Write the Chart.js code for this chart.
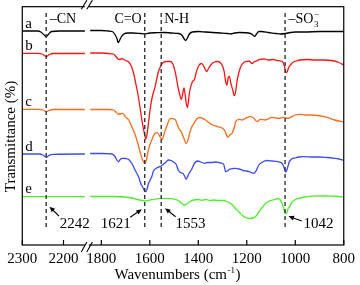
<!DOCTYPE html>
<html><head><meta charset="utf-8">
<script src="https://cdn.jsdelivr.net/npm/chart.js@4.4.1/dist/chart.umd.min.js"></script>
<style>html,body{margin:0;padding:0;background:#fff}</style>
</head><body>
<canvas id="c" width="360" height="285"></canvas>
<script>
// ---- tick labels & markers ----
const tickWavenumbers = [2300, 2200, 1800, 1600, 1400, 1200, 1000, 800];
const markerWavenumbers = [2242, 1621, 1553, 1042];
const traceLabels = ['a', 'b', 'c', 'd', 'e'];

// ---- spectra (wavenumber, relative transmittance; null = axis break) ----
const wnA = [2300,2282,2262,2255,2248,2242,2236,2229,2210,2186,2162,2148,2000,
  1846,1800,1770,1755,1745,1735,1731,1726,1718,1707,1690,1670,1640,1621,1600,1570,1540,1510,1480,1468,1458,1452,1445,1437,1425,1400,1370,1340,1310,1280,1265,1250,1230,1185,1175,1168,1160,1150,1140,1110,1080,1060,1040,1020,1000,960,900,850,800];
const tA = [214,214,214,213,210.5,208.3,211,213.5,214,214,214,214,null,
  214.5,214.5,214,213.5,211,206,202.3,204,208,211,212,212,211.5,211,212,212.3,212.5,212,211.5,210,206,204.5,207,211,213,213.5,213,212.5,212,211.5,211,212,212.5,211.5,210,208.5,211,213.5,213.5,212.5,211.5,211,211.5,212.5,213,213,213.5,213.5,213.5];

const wnB = [2300,2262,2252,2242,2234,2225,2148,2000,
  1846,1800,1770,1750,1740,1731,1722,1716,1708,1695,1687,1675,1665,1660,1650,1640,1630,1621,1617,1612,1605,1599,1590,1578,1565,1555,1545,1530,1515,1505,1494,1483,1476,1470,1463,1459,1455,1450,1445,1440,1436,1425,1415,1408,1400,1388,1380,1370,1365,1357,1345,1334,1320,1310,1300,1293,1287,1282,1277,1272,1265,1258,1252,1247,1240,1232,1225,1210,1200,1190,1178,1170,1160,1145,1130,1110,1090,1075,1060,1050,1045,1040,1035,1028,1020,1008,995,980,950,920,880,850,820,800];
const tB = [191.7,191.7,191,188.5,190.5,191.5,191.5,null,
  192,192,191.5,191,188.5,186,185.5,186.5,185.5,184,183,178,170,164,152,137,121,110,106,110,123,135,148,158.3,173,179,182.5,183.5,183.5,181,171.7,157,150,145.5,153,157,152,142,137.5,145,153,163,166,173,178.5,181.5,180,175,173.3,177,181,183,183.5,182.5,179,173,163,160,167,168.5,161,155,149.5,152,164,173,178.3,183,183.5,184,181.5,183,184,185.7,186,185,185.5,184.5,184,182.5,179,173.5,172.5,177,180,183,184,185,185.5,185,185,184.5,182.5,180];

const wnC = [2300,2258,2250,2242,2235,2225,2148,2000,
  1846,1800,1770,1750,1740,1731,1722,1714,1705,1701,1687,1674,1660,1650,1640,1630,1620,1612,1606,1592,1578,1569,1558,1549,1540,1531,1520,1511,1500,1494,1481,1470,1460,1450,1440,1436,1425,1415,1402,1392,1382,1370,1361,1341,1320,1300,1290,1282,1278,1270,1260,1250,1246,1232,1218,1205,1185,1171,1157,1144,1124,1096,1069,1049,1042,1028,1015,1001,981,961,933,879,838,800];
const tC = [135.7,135.7,135,133.3,134.7,135.5,135.5,null,
  135.5,135.5,135.5,135,133,131,131,131.7,130,128.3,125,118.3,110,102,93,85,81.7,87,95,105,111.7,112.3,108.3,105.7,112,118.3,125,126.7,126,125,117,113,107,101.7,107,111.7,119,123,127,127.5,126.7,125,123.3,120,118.3,116.7,114,109,107.7,110,112,119,123.3,125.7,125,126.7,128.3,126.7,123.3,125.7,125,127.7,126.7,127.7,127.2,126.7,128.3,130,130.7,130,130,128.3,125,123];

const wnD = [2300,2258,2250,2242,2235,2225,2148,2000,
  1846,1800,1756,1745,1736,1729,1722,1714,1700,1687,1673,1660,1646,1639,1630,1621,1617,1610,1606,1592,1585,1572,1560,1553,1545,1535,1524,1512,1504,1490,1483,1470,1463,1455,1450,1445,1438,1429,1415,1402,1390,1375,1360,1345,1330,1307,1295,1287,1280,1270,1255,1246,1232,1215,1200,1185,1171,1162,1150,1135,1117,1096,1072,1055,1047,1042,1038,1032,1025,1015,1000,987,967,930,906,870,838,820,800];
const tD = [91,91,90,87.7,89.7,90.7,91,null,
  91.5,91.5,91,89,85,83.3,85.5,86.7,86.5,85.5,81,74.5,68,62.5,58,54,53.3,57,61,68.3,74,77,78.3,79,80.5,82.5,85,84.5,83.3,80,75,72,71.5,68,65.7,68,71.7,75,82,84,83,81.7,82.5,82.5,83,82,80.5,73.3,74,76,76.5,76.7,76,74.5,74,73,71.7,74,80,83,84.5,84,83.3,81.7,78,74,73,77,83,86,87,88,88.3,88,88,87.5,86.7,86,84.5];

const wnE = [2300,2242,2148,2000,
  1846,1800,1750,1700,1674,1650,1630,1619,1606,1585,1565,1551,1530,1510,1497,1483,1476,1465,1456,1448,1436,1420,1400,1385,1370,1350,1335,1320,1300,1282,1268,1255,1245,1232,1218,1205,1190,1175,1166,1155,1145,1135,1120,1103,1085,1072,1062,1055,1048,1042,1037,1030,1022,1015,1000,980,960,933,880,850,820,800];
const tE = [48.3,48.3,48.3,null,
  48.5,48.5,48.5,48,47,45.5,44.5,44,44.5,45.7,46.3,46.7,46.5,46.3,45.7,44.5,43.3,41,40,41,43.3,45,45.5,44.7,45.5,44.5,45,44.5,44.5,43.5,41.7,39,36,33,29.5,27.5,26.7,27,28,31,35,38,42,44.3,45.5,46.5,45,42,37,31.5,31.5,36,39,42.3,45.5,47,48,48.8,49,48.8,48.5,48];

// ---- broken-axis mapping (2300–2140 | 1850–800) ----
const LEFT_K = 0.417, RIGHT_K = 0.2454, RIGHT_OFF = 80;
function toAxis(w) { return w > 2000 ? (2300 - w) * LEFT_K : RIGHT_OFF + (1800 - w) * RIGHT_K; }
const AXIS_MAX = toAxis(800);

const SERIF = '"Liberation Serif", "Times New Roman", serif';
const colors = ['#000000', '#ff1414', '#ff6a1a', '#3a4bf5', '#4cee2a'];
const wns = [wnA, wnB, wnC, wnD, wnE];
const ts = [tA, tB, tC, tD, tE];

const datasets = ts.map((t, k) => ({
  label: traceLabels[k],
  data: wns[k].map((w, i) => ({ x: toAxis(w), y: t[i] })),
  borderColor: colors[k],
  borderWidth: 1.3,
  pointRadius: 0,
  fill: false,
  spanGaps: false,
  cubicInterpolationMode: 'monotone'
}));

function arrow(ctx, x1, y1, x2, y2) {
  const a = Math.atan2(y2 - y1, x2 - x1), h = 5.5, wdt = 2.4;
  ctx.beginPath(); ctx.moveTo(x1, y1);
  ctx.lineTo(x2 - Math.cos(a) * h * 0.8, y2 - Math.sin(a) * h * 0.8); ctx.stroke();
  ctx.beginPath();
  ctx.moveTo(x2, y2);
  ctx.lineTo(x2 - h * Math.cos(a) + wdt * Math.sin(a), y2 - h * Math.sin(a) - wdt * Math.cos(a));
  ctx.lineTo(x2 - h * Math.cos(a) - wdt * Math.sin(a), y2 - h * Math.sin(a) + wdt * Math.cos(a));
  ctx.closePath(); ctx.fill();
}

const overlay = {
  id: 'overlay',
  afterDatasetsDraw(chart) {
    const { ctx, chartArea: ca, scales: { x, y } } = chart;
    const px = w => x.getPixelForValue(toAxis(w));
    ctx.save();
    ctx.strokeStyle = '#000'; ctx.lineWidth = 1.2;
    ctx.strokeRect(ca.left, ca.top, ca.right - ca.left, ca.bottom - ca.top);
    tickWavenumbers.forEach(w => {
      const p = px(w);
      ctx.beginPath(); ctx.moveTo(p, ca.bottom); ctx.lineTo(p, ca.bottom - 5); ctx.stroke();
    });
    const b1 = px(2150), b2 = b1 + 5.5;
    ctx.fillStyle = '#fff';
    ctx.fillRect(b1 + 0.8, ca.top - 2, b2 - b1 - 1.6, 4);
    ctx.fillRect(b1 + 0.8, ca.bottom - 2, b2 - b1 - 1.6, 4);
    ctx.lineWidth = 1.1;
    [[ca.top - 2, 4.5], [ca.bottom + 2, 5]].forEach(([yc, hh]) => {
      [b1, b2].forEach(cx => {
        ctx.beginPath(); ctx.moveTo(cx - 2.8, yc + hh); ctx.lineTo(cx + 2.8, yc - hh); ctx.stroke();
      });
    });
    ctx.strokeStyle = '#333'; ctx.lineWidth = 1.4; ctx.setLineDash([4, 3]);
    const yTop = y.getPixelForValue(232), yBot = y.getPixelForValue(16);
    markerWavenumbers.forEach(w => {
      const p = px(w);
      ctx.beginPath(); ctx.moveTo(p, yTop); ctx.lineTo(p, yBot); ctx.stroke();
    });
    ctx.setLineDash([]);
    ctx.fillStyle = '#000'; ctx.strokeStyle = '#000';
    ctx.font = '15px ' + SERIF; ctx.textBaseline = 'alphabetic';
    ctx.textAlign = 'left';
    ts.forEach((t, k) => ctx.fillText(traceLabels[k], ca.left + 3, y.getPixelForValue(t[0]) - 3.5));
    const yl = ca.top + 16;
    ctx.font = '14px ' + SERIF;
    ctx.textAlign = 'left'; ctx.fillText('\u2013CN', px(2242) + 3.5, yl);
    ctx.textAlign = 'right'; ctx.fillText('C=O', px(1621) - 3, yl);
    ctx.textAlign = 'left'; ctx.fillText('N-H', px(1553) + 3, yl);
    const sx = px(1042) + 3.4;
    ctx.fillText('\u2013SO', sx, yl);
    const sw = ctx.measureText('\u2013SO').width;
    ctx.font = '9px ' + SERIF;
    ctx.fillText('3', sx + sw + 0.5, yl + 4);
    ctx.fillText('\u2212', sx + sw + 0.5, yl - 6);
    ctx.font = '15px ' + SERIF;
    const yb = 228.3;
    ctx.lineWidth = 1.1;
    ctx.textAlign = 'left'; ctx.fillText('2242', px(2242) + 13.5, yb);
    arrow(ctx, px(2242) + 12.8, 216, px(2242) + 3.3, 206.7);
    ctx.textAlign = 'right'; ctx.fillText('1621', px(1621) - 14, yb);
    arrow(ctx, px(1621) - 14.5, 217.3, px(1621) - 2.9, 209.3);
    ctx.textAlign = 'left'; ctx.fillText('1553', px(1553) + 14.4, yb);
    arrow(ctx, px(1553) + 14.4, 216.7, px(1553) + 3.8, 208.3);
    ctx.fillText('1042', px(1042) + 18.4, yb);
    arrow(ctx, px(1042) + 16.7, 221, px(1042) + 3.4, 216.3);
    ctx.save();
    ctx.translate(15, 136.5); ctx.rotate(-Math.PI / 2);
    ctx.textAlign = 'center'; ctx.font = '15px ' + SERIF;
    ctx.fillText('Transmittance (%)', 0, 0);
    ctx.restore();
    ctx.textAlign = 'left'; ctx.font = '15px ' + SERIF;
    const t1 = 'Wavenumbers (cm', t3 = ')';
    const w1 = ctx.measureText(t1).width;
    ctx.font = '9px ' + SERIF;
    const w2 = ctx.measureText('-1').width;
    ctx.font = '15px ' + SERIF;
    const total = w1 + w2 + ctx.measureText(t3).width + 1;
    let tx = 177.5 - total / 2;
    ctx.fillText(t1, tx, 279);
    ctx.font = '9px ' + SERIF;
    ctx.fillText('-1', tx + w1 + 0.5, 272.5);
    ctx.font = '15px ' + SERIF;
    ctx.fillText(t3, tx + w1 + w2 + 1, 279);
    ctx.restore();
  }
};

new Chart(document.getElementById('c'), {
  type: 'line',
  data: { datasets },
  options: {
    responsive: false,
    animation: false,
    events: [],
    layout: { padding: { left: 22.3, right: 12.3, top: 6.7, bottom: 0 } },
    plugins: { legend: { display: false }, tooltip: { enabled: false }, title: { display: false } },
    scales: {
      x: {
        type: 'linear', min: 0, max: AXIS_MAX,
        afterBuildTicks: s => { s.ticks = tickWavenumbers.map(w => ({ value: toAxis(w) })); },
        afterFit: s => { s.height = 40; },
        ticks: {
          autoSkip: false, maxRotation: 0, padding: 5, color: '#000',
          font: { family: SERIF, size: 15 },
          callback: (v, i) => String(tickWavenumbers[i])
        },
        grid: { display: false, drawTicks: false },
        border: { display: false }
      },
      y: { display: false, min: 0, max: 238.3 }
    }
  },
  plugins: [overlay]
});
</script>
</body></html>
